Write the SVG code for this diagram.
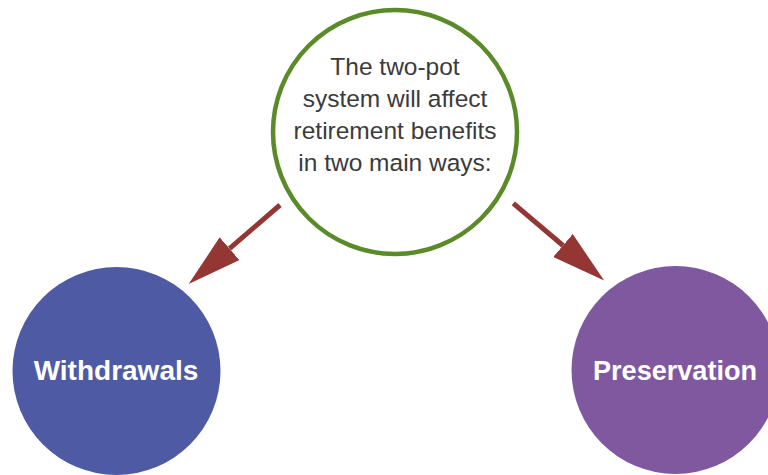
<svg xmlns="http://www.w3.org/2000/svg" width="768" height="475" viewBox="0 0 768 475">
<style>
.lbl{font-family:"Liberation Sans",Arial,sans-serif;font-weight:bold;font-size:28px;fill:#ffffff;text-anchor:middle}
.main{font-family:"Liberation Sans",Arial,sans-serif;font-size:24.5px;fill:#3b3b3b;text-anchor:middle}
.conn{stroke:#943634;stroke-width:5;fill:none}
</style>
<defs>
<marker id="head" markerUnits="userSpaceOnUse" markerWidth="56" markerHeight="32" refX="0" refY="15" orient="auto">
<path d="M0,0 L54,15 L0,30 Z" fill="#943634"/>
</marker>
</defs>
<rect width="768" height="475" fill="#ffffff"/>
<g id="connectors">
<line class="conn" x1="280" y1="205" x2="229.5" y2="248.7" marker-end="url(#head)"/>
<line class="conn" x1="513.3" y1="203.3" x2="563" y2="245.5" marker-end="url(#head)"/>
</g>
<g id="center">
<circle cx="395" cy="132" r="122" fill="#ffffff" stroke="#5b8a29" stroke-width="4.5"/>
<text class="main" x="395" y="75">The two-pot</text>
<text class="main" x="395" y="107">system will affect</text>
<text class="main" x="395" y="139">retirement benefits</text>
<text class="main" x="395" y="171">in two main ways:</text>
</g>
<g id="withdrawals">
<circle cx="116.5" cy="371" r="104" fill="#4f5aa5"/>
<text class="lbl" x="116" y="380">Withdrawals</text>
</g>
<g id="preservation">
<circle cx="675.5" cy="370" r="104" fill="#7f58a0"/>
<text class="lbl" x="675" y="380" textLength="164" lengthAdjust="spacingAndGlyphs">Preservation</text>
</g>
</svg>
